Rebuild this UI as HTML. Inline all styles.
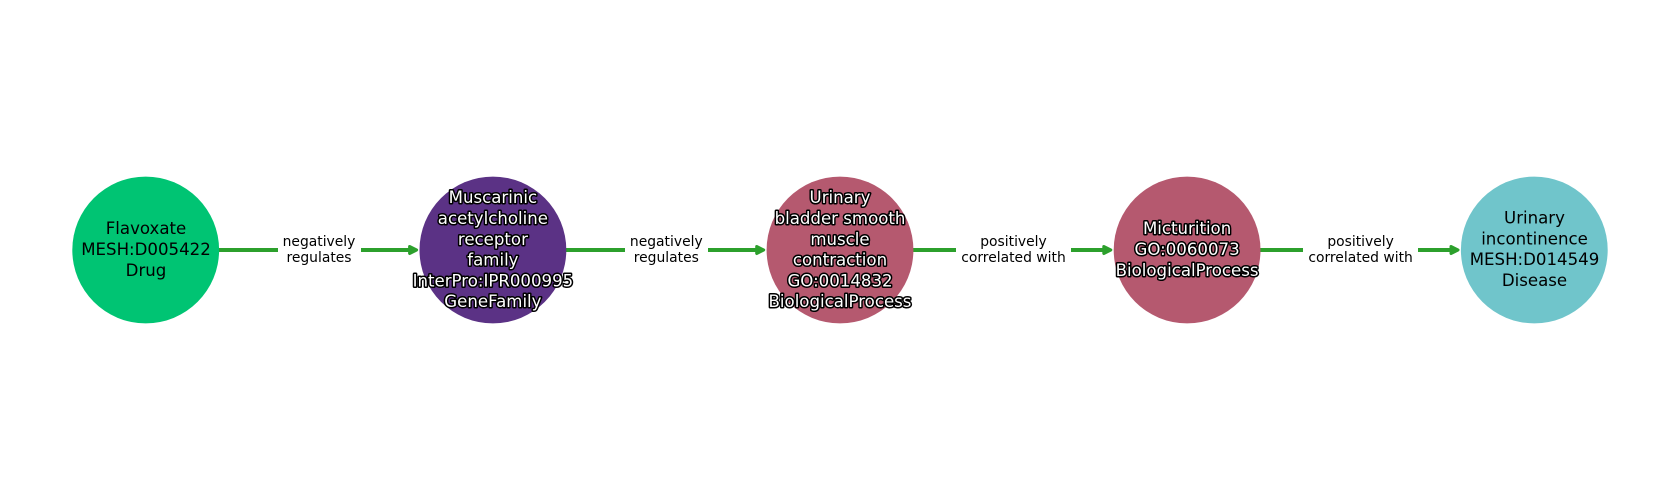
<!DOCTYPE html>
<html>
<head>
<meta charset="utf-8">
<style>
html,body{margin:0;padding:0;background:#fff;width:1680px;height:500px;overflow:hidden}
svg{display:block}
text{font-family:"DejaVu Sans",sans-serif;text-anchor:middle}
.n{font-size:16.6px;fill:#000}
.h{font-size:16.6px;fill:#fff;stroke:#000;stroke-width:3px;paint-order:stroke fill;stroke-linejoin:round}
.e{font-size:13.89px;fill:#000}
.l{stroke:#2ca02c;stroke-width:4;fill:none}
.a{fill:#2ca02c;stroke:#2ca02c;stroke-width:3;stroke-linejoin:round}
</style>
</head>
<body>
<svg width="1680" height="500" viewBox="0 0 1680 500" xmlns="http://www.w3.org/2000/svg">
<rect width="1680" height="500" fill="#fff"/>

<!-- edges -->
<path class="l" d="M219 250H278M361 250H411"/>
<path class="a" d="M409.6 246.5L416.6 250L409.6 253.5Z"/>
<path class="l" d="M566 250H625M708 250H758"/>
<path class="a" d="M756.7 246.5L763.7 250L756.7 253.5Z"/>
<path class="l" d="M913 250H956M1071 250H1105"/>
<path class="a" d="M1103.8 246.5L1110.8 250L1103.8 253.5Z"/>
<path class="l" d="M1260 250H1303M1418 250H1452"/>
<path class="a" d="M1451 246.5L1458 250L1451 253.5Z"/>

<!-- nodes -->
<circle cx="145.7" cy="250" r="73.4" fill="#00c473"/>
<circle cx="492.9" cy="250" r="73.4" fill="#5b3285"/>
<circle cx="840" cy="250" r="73.4" fill="#b5596f"/>
<circle cx="1187.1" cy="250" r="73.4" fill="#b5596f"/>
<circle cx="1534.3" cy="250" r="73.4" fill="#70c5cb"/>

<!-- node labels -->
<g class="n">
<text x="146" y="234">Flavoxate</text>
<text x="146" y="255">MESH:D005422</text>
<text x="146" y="276">Drug</text>
</g>
<g class="h">
<text x="492.9" y="203.2">Muscarinic</text>
<text x="492.9" y="224">acetylcholine</text>
<text x="492.9" y="244.8">receptor</text>
<text x="492.9" y="265.6">family</text>
<text x="492.9" y="286.4">InterPro:IPR000995</text>
<text x="492.9" y="307.2">GeneFamily</text>
</g>
<g class="h">
<text x="840" y="203.2">Urinary</text>
<text x="840" y="224">bladder smooth</text>
<text x="840" y="244.8">muscle</text>
<text x="840" y="265.6">contraction</text>
<text x="840" y="286.4">GO:0014832</text>
<text x="840" y="307.2">BiologicalProcess</text>
</g>
<g class="h">
<text x="1187.1" y="234">Micturition</text>
<text x="1187.1" y="255">GO:0060073</text>
<text x="1187.1" y="276">BiologicalProcess</text>
</g>
<g class="n">
<text x="1534.5" y="223.6">Urinary</text>
<text x="1534.5" y="244.4">incontinence</text>
<text x="1534.5" y="265.2">MESH:D014549</text>
<text x="1534.5" y="286">Disease</text>
</g>

<!-- edge labels -->
<g class="e">
<text x="319" y="246">negatively</text>
<text x="319" y="262">regulates</text>
<text x="666.3" y="246">negatively</text>
<text x="666.3" y="262">regulates</text>
<text x="1013.5" y="246">positively</text>
<text x="1013.5" y="262">correlated with</text>
<text x="1360.6" y="246">positively</text>
<text x="1360.6" y="262">correlated with</text>
</g>
</svg>
</body>
</html>
